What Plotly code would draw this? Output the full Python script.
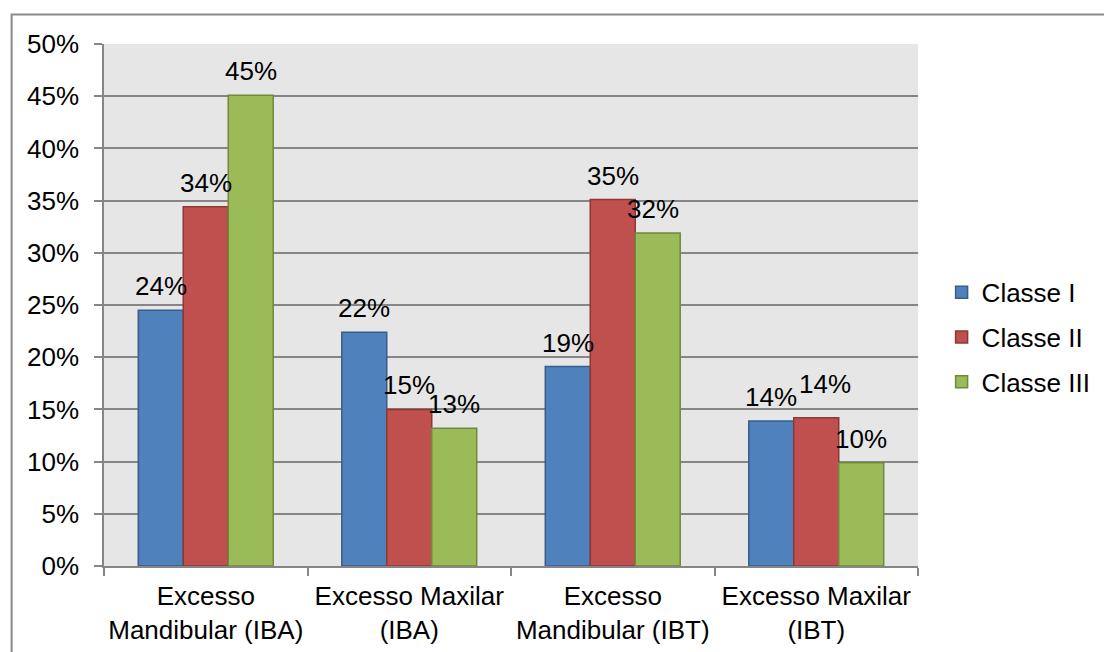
import plotly.graph_objects as go

categories = ["Excesso<br>Mandibular (IBA)", "Excesso Maxilar<br>(IBA)",
              "Excesso<br>Mandibular (IBT)", "Excesso Maxilar<br>(IBT)"]
series_names = ["Classe I", "Classe II", "Classe III"]
classe_i = [0.245, 0.224, 0.191, 0.139]
classe_ii = [0.344, 0.150, 0.351, 0.142]
classe_iii = [0.451, 0.132, 0.319, 0.099]
labels_i = ["24%", "22%", "19%", "14%"]
labels_ii = ["34%", "15%", "35%", "14%"]
labels_iii = ["45%", "13%", "32%", "10%"]
y_ticks = [0, 0.05, 0.10, 0.15, 0.20, 0.25, 0.30, 0.35, 0.40, 0.45, 0.50]

fills = ["#4F81BD", "#C0504D", "#9BBB59"]
edges = ["#385D8A", "#8C3836", "#71893F"]
values = [classe_i, classe_ii, classe_iii]
labels = [labels_i, labels_ii, labels_iii]

# label nudges (series index, category index) -> (dx, dy) in px
nudges = {(1, 3): (9, 10), (2, 2): (-5, 0)}

FONT = "Liberation Sans, Arial, sans-serif"
FS = 26

fig = go.Figure()
for name, vals, fc, ec in zip(series_names, values, fills, edges):
    fig.add_trace(go.Bar(
        x=categories, y=vals, name=name, legendgroup=name,
        marker=dict(color=fc, line=dict(color=ec, width=1.5)),
        hoverinfo="skip",
    ))

bar_px = 45
offsets = [-bar_px, 0, bar_px]
for si, (vals, labs, off) in enumerate(zip(values, labels, offsets)):
    for ci, (c, v, t) in enumerate(zip(categories, vals, labs)):
        dx, dy = nudges.get((si, ci), (0, 0))
        fig.add_annotation(x=c, y=v, text=t, showarrow=False,
                           xshift=off + dx, yshift=7 + dy, yanchor="bottom",
                           font=dict(family=FONT, size=FS, color="black"))

fig.add_shape(type="rect", xref="paper", yref="paper",
              x0=-0.1135, x1=1.5, y0=-0.5, y1=1.0567,
              line=dict(color="#898989", width=2), layer="below")

fig.update_layout(
    width=1104, height=652,
    margin=dict(l=104, r=186, t=44, b=86, autoexpand=False),
    paper_bgcolor="white", plot_bgcolor="#E6E6E6",
    barmode="group", bargap=0.337, bargroupgap=0,
    font=dict(family=FONT, size=FS, color="black"),
    showlegend=True,
    legend=dict(x=1.029, xanchor="left", y=0.438, yanchor="middle",
                traceorder="grouped", tracegroupgap=8,
                font=dict(family=FONT, size=FS, color="black"),
                itemwidth=30),
)
fig.update_xaxes(showline=True, linecolor="#868686", linewidth=1.5,
                 ticks="outside", tickson="boundaries", ticklen=8,
                 tickcolor="#868686", tickwidth=1.5, showgrid=False,
                 automargin=False, tickangle=0, ticklabelstandoff=6,
                 tickfont=dict(family=FONT, size=FS, color="black"))
fig.update_yaxes(range=[0, 0.5], tickvals=y_ticks, tickformat=".0%",
                 showgrid=True, gridcolor="#868686", gridwidth=1.5,
                 showline=True, linecolor="#868686", linewidth=1.5,
                 ticks="outside", ticklen=8, tickcolor="#868686", tickwidth=1.5,
                 ticklabelstandoff=10, zeroline=False, automargin=False,
                 tickfont=dict(family=FONT, size=FS, color="black"))

fig.write_html("out.html")
